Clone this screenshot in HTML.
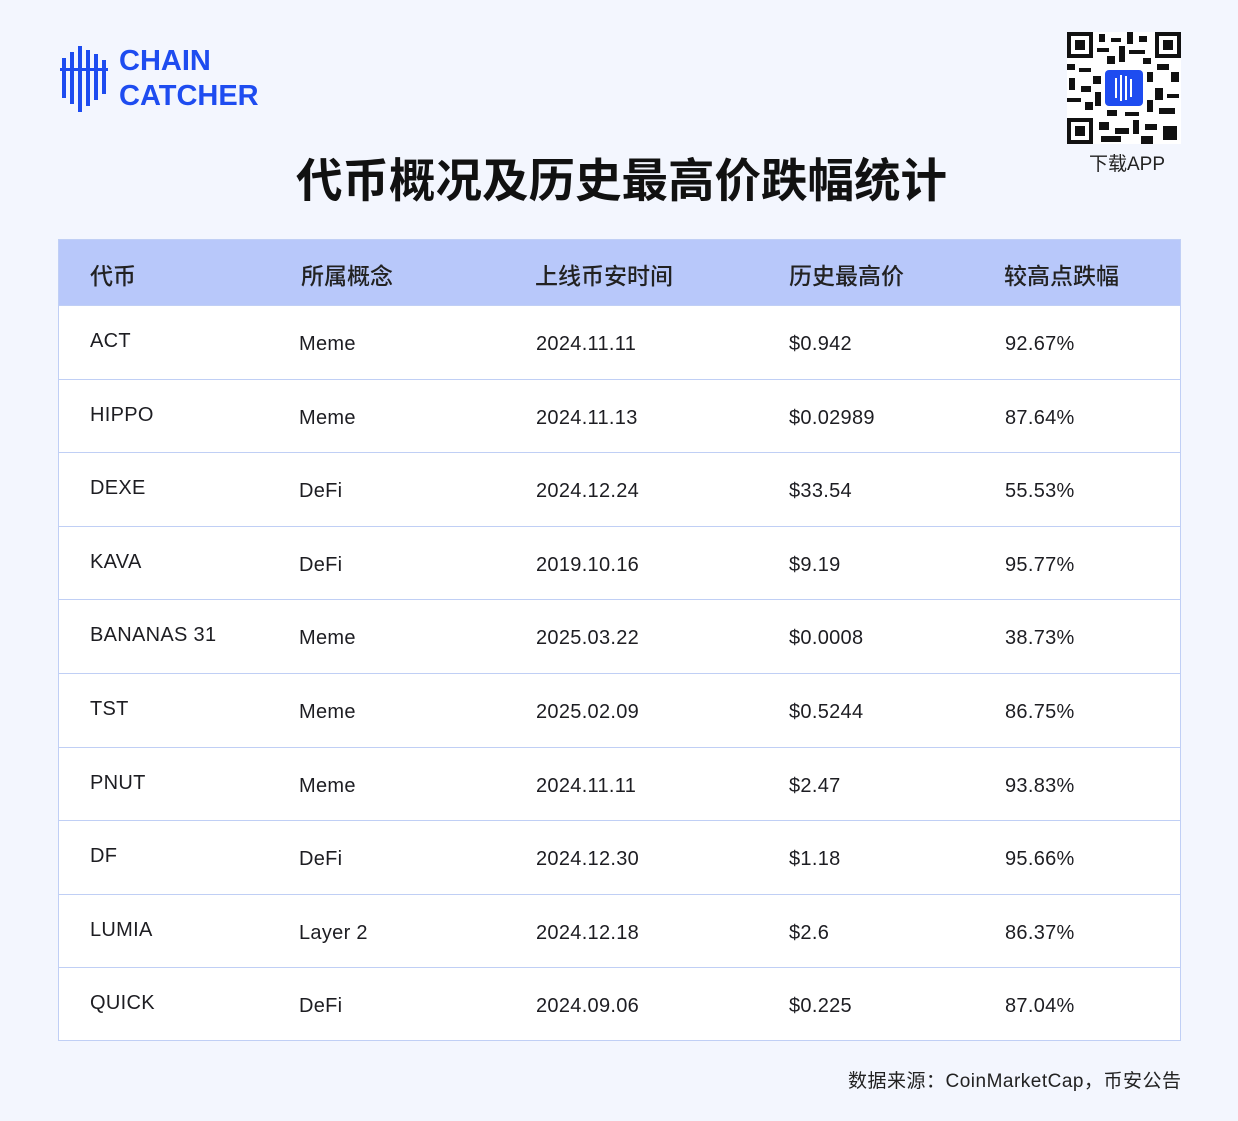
<!DOCTYPE html>
<html><head><meta charset="utf-8"><style>
body{margin:0;width:1238px;height:1121px;background:#f3f6fe;position:relative;overflow:hidden;font-family:"Liberation Sans","Noto Sans CJK SC",sans-serif;color:#1d1d22}
.a{position:absolute;white-space:nowrap}
.tbl{position:absolute;left:58px;top:239px;width:1121px;height:800px;border:1px solid #c0cff5;background:#fff}
.hd{position:absolute;left:0;top:0;width:1121px;height:65px;background:#b8c8fa}
.row{position:absolute;left:0;width:1121px;height:73px;border-top:1px solid #c0cff5}
.hd span{position:absolute;top:17px;font-size:23px;color:#222;font-weight:500}
.row span{position:absolute;font-size:20px;letter-spacing:0.3px}
</style></head><body>
<svg class="a" style="left:60px;top:44px" width="48" height="70" viewBox="0 0 48 70">
<g fill="#1e4cf0"><rect x="2" y="14" width="4" height="40"/><rect x="10" y="8" width="4" height="52"/><rect x="18" y="2" width="4" height="66"/><rect x="26" y="6" width="4" height="56"/><rect x="34" y="10" width="4" height="46"/><rect x="42" y="16" width="4" height="34"/><rect x="0" y="24" width="48" height="3"/></g></svg>
<div class="a" style="left:119px;top:44px;font-size:29px;font-weight:bold;color:#1e4cf0;line-height:35px">CHAIN<br>CATCHER</div>
<svg class="a" style="left:1067px;top:32px" width="114" height="112" viewBox="0 0 114 112">
<rect width="114" height="112" fill="#fff"/>
<g fill="#111"><rect x="0" y="0" width="26" height="26"/><rect x="88" y="0" width="26" height="26"/><rect x="0" y="86" width="26" height="26"/></g>
<g fill="#fff"><rect x="4" y="4" width="18" height="18"/><rect x="92" y="4" width="18" height="18"/><rect x="4" y="90" width="18" height="18"/></g>
<g fill="#111"><rect x="8" y="8" width="10" height="10"/><rect x="96" y="8" width="10" height="10"/><rect x="8" y="94" width="10" height="10"/>
<rect x="32" y="2" width="6" height="8"/><rect x="44" y="6" width="10" height="4"/><rect x="60" y="0" width="6" height="12"/><rect x="72" y="4" width="8" height="6"/><rect x="30" y="16" width="12" height="4"/><rect x="62" y="18" width="16" height="4"/><rect x="40" y="24" width="8" height="8"/><rect x="52" y="14" width="6" height="16"/><rect x="76" y="26" width="8" height="6"/>
<rect x="0" y="32" width="8" height="6"/><rect x="12" y="36" width="12" height="4"/><rect x="2" y="46" width="6" height="12"/><rect x="14" y="54" width="10" height="6"/><rect x="0" y="66" width="14" height="4"/><rect x="18" y="70" width="8" height="8"/><rect x="26" y="44" width="8" height="8"/><rect x="28" y="60" width="6" height="14"/>
<rect x="90" y="32" width="12" height="6"/><rect x="104" y="40" width="8" height="10"/><rect x="88" y="56" width="8" height="12"/><rect x="100" y="62" width="12" height="4"/><rect x="92" y="76" width="16" height="6"/><rect x="80" y="40" width="6" height="10"/><rect x="80" y="68" width="6" height="12"/>
<rect x="32" y="90" width="10" height="8"/><rect x="48" y="96" width="14" height="6"/><rect x="66" y="88" width="6" height="14"/><rect x="78" y="92" width="12" height="6"/><rect x="96" y="94" width="14" height="14"/><rect x="34" y="104" width="20" height="6"/><rect x="74" y="104" width="12" height="8"/><rect x="40" y="78" width="10" height="6"/><rect x="58" y="80" width="14" height="4"/></g>
<rect x="38" y="38" width="38" height="36" rx="4" fill="#1e4cf0"/>
<g fill="#fff"><rect x="48" y="46" width="2" height="20"/><rect x="53" y="43" width="2" height="26"/><rect x="58" y="44" width="2" height="24"/><rect x="63" y="47" width="2" height="18"/></g>
</svg>
<div class="a" style="left:1089px;top:149px;font-size:19px;color:#222">下载APP</div>
<div class="a" style="left:296px;top:144px;font-size:46.5px;font-weight:bold;color:#111">代币概况及历史最高价跌幅统计</div>
<div class="tbl">
<div class="hd"><span style="left:31px">代币</span><span style="left:242px">所属概念</span><span style="left:476px">上线币安时间</span><span style="left:730px">历史最高价</span><span style="left:945px">较高点跌幅</span></div>
</div>
<div class="a" style="left:848px;top:1066px;font-size:19px;color:#222;letter-spacing:0.5px">数据来源：CoinMarketCap，币安公告</div>
<script>
var d=[["ACT","Meme","2024.11.11","$0.942","92.67%"],["HIPPO","Meme","2024.11.13","$0.02989","87.64%"],["DEXE","DeFi","2024.12.24","$33.54","55.53%"],["KAVA","DeFi","2019.10.16","$9.19","95.77%"],["BANANAS 31","Meme","2025.03.22","$0.0008","38.73%"],["TST","Meme","2025.02.09","$0.5244","86.75%"],["PNUT","Meme","2024.11.11","$2.47","93.83%"],["DF","DeFi","2024.12.30","$1.18","95.66%"],["LUMIA","Layer 2","2024.12.18","$2.6","86.37%"],["QUICK","DeFi","2024.09.06","$0.225","87.04%"]];
var t=document.querySelector('.tbl'),h='';
d.forEach(function(r,i){var y=65+i*73.6;
h+='<div class="row" style="top:'+y+'px"><span style="left:31px;top:24px">'+r[0]+'</span><span style="left:240px;top:27px">'+r[1]+'</span><span style="left:477px;top:27px">'+r[2]+'</span><span style="left:730px;top:27px">'+r[3]+'</span><span style="left:946px;top:27px">'+r[4]+'</span></div>';});
t.innerHTML+=h;
</script>
</body></html>
